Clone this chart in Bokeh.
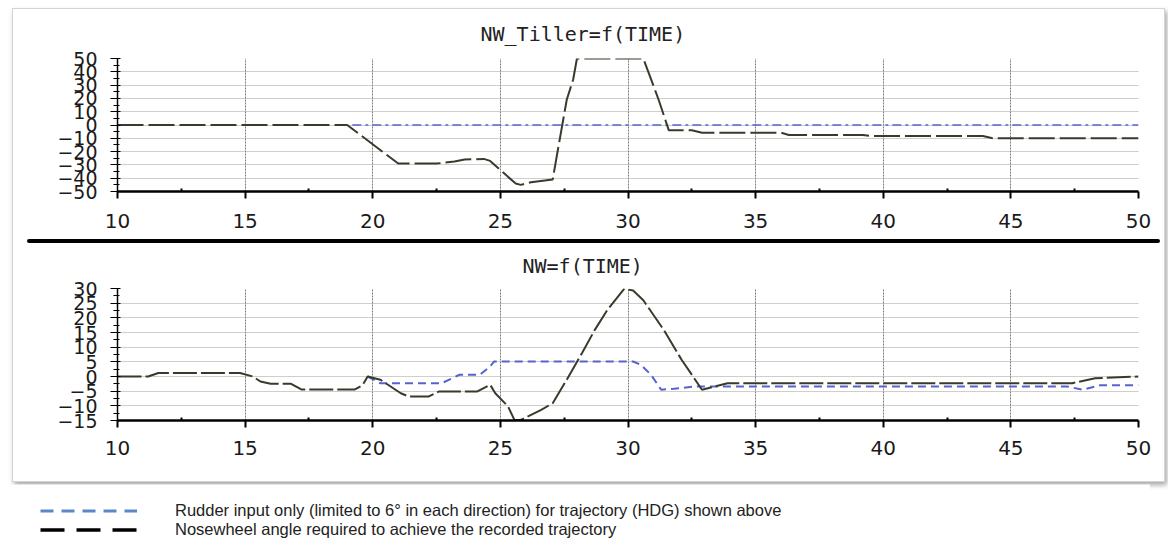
from bokeh.plotting import figure
from bokeh.layouts import column
from bokeh.models import Div, Range1d, FixedTicker, Legend, LegendItem
from bokeh.embed import file_html
from bokeh.resources import INLINE

# ---------------- data ----------------
# top panel: NW_Tiller = f(TIME)
tiller_time = [10, 19, 21, 22.5, 23.2, 23.6, 24.35, 24.6, 25.3, 25.6, 25.8, 26.2, 27.05,
               27.25, 27.6, 27.85, 28.0, 30.6, 31.2, 31.6, 32.5, 32.9, 36.0, 36.3, 39.2,
               39.5, 43.9, 44.3, 50]
tiller_nw = [0, 0, -29, -29, -27.5, -26, -25.5, -27, -39, -44, -45, -43, -41,
             -19, 19, 34, 50, 50, 19, -4, -4, -5.8, -5.8, -7.5, -7.5,
             -8.3, -8.3, -10, -10]
tiller_rud_time = [19.2, 50]
tiller_rud = [0, 0]

# bottom panel: NW = f(TIME)
nw_time = [10, 11.2, 11.6, 14.8, 15.3, 15.6, 16.0, 16.8, 17.2, 19.3, 19.6, 19.8, 20.3,
           21.1, 21.4, 22.2, 22.6, 24.1, 24.6, 24.8, 25.3, 25.55, 25.8, 26.6, 27.05,
           27.6, 28.2, 28.7, 29.2, 29.85, 30.2, 30.6, 31.4, 32.1, 32.9, 33.4, 33.9,
           47.4, 48.3, 50]
nw_angle = [0, 0, 1.2, 1.2, 0, -1.7, -2.5, -2.5, -4.4, -4.4, -3, 0, -1.1,
            -5.7, -6.8, -6.8, -5.1, -5.1, -2.8, -5.7, -10.2, -14.8, -14.8, -11.4, -9.1,
            -1.1, 8, 15.9, 22.8, 29.9, 29.3, 26, 15.9, 5.7, -4.5, -3.4, -2.3,
            -2.3, -0.6, 0]
rud_time = [19.8, 20.3, 22.7, 23.4, 24.2, 24.6, 24.75, 30.2, 30.5, 30.9, 31.3, 31.8,
            32.6, 47.2, 47.8, 48.5, 50]
rud_angle = [0, -2.3, -2.3, 0.6, 0.6, 3.4, 5.1, 5.1, 4, 0.6, -4.5, -4.2,
             -3.4, -3.4, -4.5, -3, -3]

x_ticks = [10, 15, 20, 25, 30, 35, 40, 45, 50]
x_minor = [12.5, 17.5, 22.5, 27.5, 32.5, 37.5, 42.5, 47.5]
y_ticks_top = [-50, -40, -30, -20, -10, 0, 10, 20, 30, 40, 50]
y_minor_top = [-45, -35, -25, -15, -5, 5, 15, 25, 35, 45]
y_ticks_bot = [-15, -10, -5, 0, 5, 10, 15, 20, 25, 30]
y_minor_bot = [-12.5, -7.5, -2.5, 2.5, 7.5, 12.5, 17.5, 22.5, 27.5]

title_top = "NW_Tiller=f(TIME)"
title_bot = "NW=f(TIME)"
legend_rudder = "Rudder input only (limited to 6\u00b0 in each direction) for trajectory (HDG) shown above"
legend_nw = "Nosewheel angle required to achieve the recorded trajectory"

# legend sample lines live outside the visible range of the legend panel
legend_sample_x = [-2, -1]
legend_sample_y = [-2, -2]

BLUE = "#5564cc"
DARK = "#3a3a2c"


def make_panel(title, yr, yt, ym, height, top_b, bot_b, title_off, title_standoff, xl_standoff):
    p = figure(width=1151, height=height, output_backend="svg", toolbar_location=None,
               x_range=Range1d(10, 50), y_range=Range1d(*yr),
               min_border_left=104, min_border_right=26,
               min_border_top=top_b, min_border_bottom=bot_b,
               background_fill_color="white", border_fill_color="white")
    p.outline_line_color = None
    p.title.text = title
    p.title.align = "left"
    p.title.vertical_align = "top"
    p.title.offset = title_off
    p.title.text_font = "DejaVu Sans Mono"
    p.title.text_font_size = "20px"
    p.title.text_font_style = "normal"
    p.title.text_color = "#222222"
    p.title.standoff = title_standoff

    p.xaxis.ticker = FixedTicker(ticks=x_ticks, minor_ticks=x_minor)
    p.yaxis.ticker = FixedTicker(ticks=yt, minor_ticks=ym)
    for ax in (p.xaxis, p.yaxis):
        ax.major_label_text_font = "DejaVu Sans"
        ax.major_label_text_color = "#1a1a1a"
        ax.axis_line_color = "black"
        ax.major_tick_line_color = "black"
        ax.minor_tick_line_color = "black"
    p.xaxis.major_label_text_font_size = "20px"
    p.yaxis.major_label_text_font_size = "19px"
    p.xaxis.axis_line_width = 2.5
    p.yaxis.axis_line_width = 1.5
    p.xaxis.major_tick_in = 0
    p.xaxis.major_tick_out = 7
    p.xaxis.minor_tick_in = 3
    p.xaxis.minor_tick_out = 0
    p.xaxis.minor_tick_line_width = 2
    p.xaxis.major_tick_line_width = 2
    p.xaxis.major_label_standoff = xl_standoff
    p.yaxis.major_tick_in = 3
    p.yaxis.major_tick_out = 7
    p.yaxis.minor_tick_in = 2
    p.yaxis.minor_tick_out = 4
    p.yaxis.major_label_standoff = 13

    p.xgrid.grid_line_color = "#7a7a7a"
    p.xgrid.grid_line_dash = "2 1"
    p.xgrid.grid_line_width = 1
    p.ygrid.grid_line_color = "#9c9c9c"
    p.ygrid.grid_line_dash = "1 1"
    p.ygrid.grid_line_width = 1
    return p


p_top = make_panel(title_top, (-50, 50), y_ticks_top, y_minor_top, 230, 49, 48, 363, 22, 15)
p_top.line(tiller_rud_time, tiller_rud, line_color=BLUE, line_width=1.6, line_dash="9 4 3 4")
p_top.line(tiller_time, tiller_nw, line_color=DARK, line_width=2, line_dash="26 5")

p_bot = make_panel(title_bot, (-15, 30), y_ticks_bot, y_minor_bot, 238, 45, 61, 405, 18, 13)
p_bot.line(rud_time, rud_angle, line_color=BLUE, line_width=2, line_dash="8 5")
p_bot.line(nw_time, nw_angle, line_color=DARK, line_width=2, line_dash="24 4")

sep = Div(text="", width=1133, height=4, margin=(0, 0, 0, 14),
          styles={"background-color": "black", "border-radius": "2px"})

frame = column(p_top, sep, p_bot, spacing=0, margin=(8, 0, 0, 12),
               styles={"border": "1px solid #d4d4d4",
                       "box-shadow": "2px 3px 5px rgba(0,0,0,0.35)",
                       "background-color": "white"})

# legend panel
p_leg = figure(width=1150, height=58, output_backend="svg", toolbar_location=None,
               x_range=Range1d(0, 1), y_range=Range1d(0, 1),
               min_border=0, min_border_left=0, min_border_right=0,
               min_border_top=0, min_border_bottom=0)
p_leg.outline_line_color = None
p_leg.axis.visible = False
p_leg.grid.visible = False
r_rud = p_leg.line(x=legend_sample_x, y=legend_sample_y, line_color="#5b86c8",
                   line_width=3, line_dash="13 8")
r_nw = p_leg.line(x=legend_sample_x, y=legend_sample_y, line_color="black",
                  line_width=3.5, line_dash="24 12")
leg = Legend(items=[LegendItem(label=legend_rudder, renderers=[r_rud]),
                    LegendItem(label=legend_nw, renderers=[r_nw])],
             location=(40, 3.5), glyph_width=97, glyph_height=17, label_height=17,
             spacing=0, padding=0, margin=0, label_standoff=38,
             border_line_color=None, background_fill_alpha=0,
             label_text_font="Liberation Sans", label_text_font_size="16.5px",
             label_text_color="#222222")
p_leg.add_layout(leg)

page = column(frame, p_leg, spacing=2)

open("out.html", "w").write(file_html(page, INLINE))
